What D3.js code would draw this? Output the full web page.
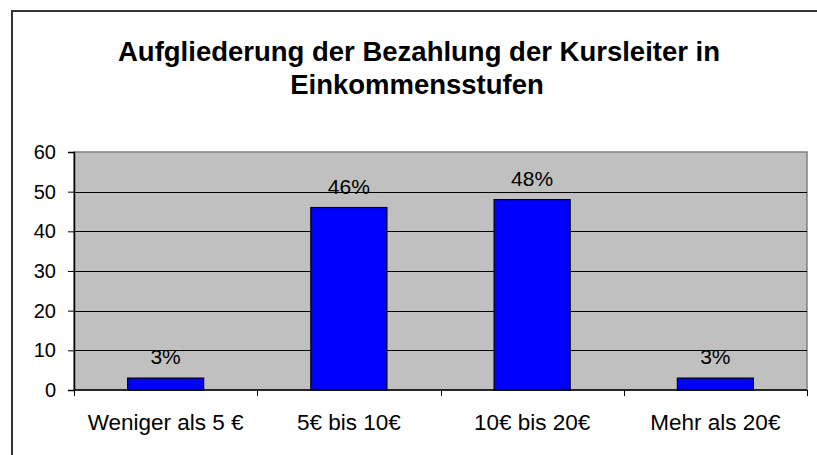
<!DOCTYPE html>
<html>
<head>
<meta charset="utf-8">
<script src="https://cdn.jsdelivr.net/npm/d3@7"></script>
<style>
  html, body { margin: 0; padding: 0; background: #fff; }
  svg { display: block; }
  text { font-family: Arial, "Liberation Sans", sans-serif; fill: #000; }
</style>
</head>
<body>
<svg id="chart" width="817" height="455"></svg>
<script>
const titleLines = ["Aufgliederung der Bezahlung der Kursleiter in", "Einkommensstufen"];
const categories = ["Weniger als 5 €", "5€ bis 10€", "10€ bis 20€", "Mehr als 20€"];
const values = [3, 46, 48, 3];
const valueLabels = ["3%", "46%", "48%", "3%"];
const yTicks = [0, 10, 20, 30, 40, 50, 60];

const svg = d3.select("#chart");
const W = 817, H = 455;
const plot = { left: 74, top: 152, right: 807, bottom: 390 };

svg.append("rect").attr("x", 0).attr("y", 0).attr("width", W).attr("height", H).attr("fill", "#fff");
// outer chart border (cut off at right/bottom)
svg.append("rect")
  .attr("x", 12).attr("y", 11).attr("width", W + 20).attr("height", H + 20)
  .attr("fill", "none").attr("stroke", "#333").attr("stroke-width", 2);

// title
const title = svg.append("text")
  .attr("text-anchor", "middle")
  .attr("font-weight", "bold")
  .attr("font-size", 27.5);
title.append("tspan").attr("x", 419).attr("y", 61).text(titleLines[0]);
title.append("tspan").attr("x", 417).attr("y", 94).text(titleLines[1]);

const x = d3.scaleBand().domain(categories).range([plot.left, plot.right]).padding(0);
const y = d3.scaleLinear().domain([0, 60]).range([plot.bottom, plot.top]);

// plot background
svg.append("rect")
  .attr("x", plot.left).attr("y", plot.top)
  .attr("width", plot.right - plot.left).attr("height", plot.bottom - plot.top)
  .attr("fill", "#c0c0c0")
  .attr("stroke", "#808080").attr("stroke-width", 1.5);

// gridlines
svg.append("g").selectAll("line").data(yTicks.filter(d => d > 0 && d < 60)).join("line")
  .attr("x1", plot.left).attr("x2", plot.right)
  .attr("y1", d => Math.round(y(d)) + 0.5).attr("y2", d => Math.round(y(d)) + 0.5)
  .attr("stroke", "#000").attr("stroke-width", 1);

// y axis
const yAxis = svg.append("g")
  .attr("transform", `translate(${plot.left},0)`)
  .call(d3.axisLeft(y).tickValues(yTicks).tickSize(6).tickPadding(12).tickFormat(d3.format("d")));
yAxis.select(".domain").attr("stroke", "#000").attr("stroke-width", 1.5);
yAxis.selectAll(".tick line").attr("stroke", "#000");
yAxis.selectAll("text").attr("font-size", 20).attr("font-family", "Arial, 'Liberation Sans', sans-serif").attr("fill", "#000");

// x axis line + boundary ticks
svg.append("line")
  .attr("x1", plot.left).attr("x2", plot.right)
  .attr("y1", plot.bottom).attr("y2", plot.bottom)
  .attr("stroke", "#000").attr("stroke-width", 1.5);
const bounds = categories.map(c => x(c)).concat([x(categories[categories.length - 1]) + x.bandwidth()]);
svg.append("g").selectAll("line").data(bounds).join("line")
  .attr("x1", d => Math.round(d) + 0.5).attr("x2", d => Math.round(d) + 0.5)
  .attr("y1", plot.bottom).attr("y2", plot.bottom + 6)
  .attr("stroke", "#000").attr("stroke-width", 1);

// category labels
svg.append("g").selectAll("text").data(categories).join("text")
  .attr("x", d => x(d) + x.bandwidth() / 2)
  .attr("y", 430)
  .attr("text-anchor", "middle")
  .attr("font-size", 22.5)
  .text(d => d);

// bars
const barW = x.bandwidth() * 0.415;
svg.append("g").selectAll("rect").data(values).join("rect")
  .attr("x", (d, i) => x(categories[i]) + (x.bandwidth() - barW) / 2)
  .attr("y", d => y(d))
  .attr("width", barW)
  .attr("height", d => y(0) - y(d))
  .attr("fill", "#0000ff")
  .attr("stroke", "#000").attr("stroke-width", 1.2);

// value labels
svg.append("g").selectAll("text").data(values).join("text")
  .attr("x", (d, i) => x(categories[i]) + x.bandwidth() / 2)
  .attr("y", d => y(d) - 14)
  .attr("text-anchor", "middle")
  .attr("font-size", 21)
  .text((d, i) => valueLabels[i]);
</script>
</body>
</html>
